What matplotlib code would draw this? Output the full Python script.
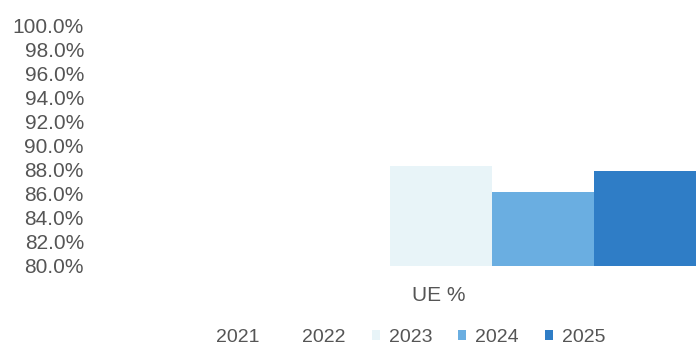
import numpy as np
import matplotlib
matplotlib.use('Agg')
import matplotlib.pyplot as plt
from matplotlib.ticker import PercentFormatter

plt.rcParams['font.family'] = ['Liberation Sans', 'DejaVu Sans']

# one category, one bar per year (no data for 2021/2022)
category = 'UE %'
years = ['2021', '2022', '2023', '2024', '2025']
values = [np.nan, np.nan, 88.3, 86.1, 87.9]
colors = ['#FFFFFF', '#FFFFFF', '#E8F4F8', '#6AAEE1', '#2F7DC6']

W, H = 697, 345
fig = plt.figure(figsize=(W / 100, H / 100), dpi=100)
ax = fig.add_axes([95 / W, 1 - 265.5 / H, (W - 95) / W, (265.5 - 25.5) / H])

width = 0.2
for i, (yr, v, c) in enumerate(zip(years, values, colors)):
    ax.bar((i - 2) * width, v, width, color=c, label=yr)

ax.set_ylim(80, 100)
ax.set_yticks(np.arange(80, 100.1, 2))
ax.yaxis.set_major_formatter(PercentFormatter(decimals=1))
ax.set_xlim(-0.678, 0.502)
ax.set_xticks([0 - 0.004])
ax.set_xticklabels([category])

for s in ax.spines.values():
    s.set_visible(False)
ax.tick_params(axis='both', length=0, colors='#555555', labelsize=15)
ax.tick_params(axis='y', pad=8)
ax.tick_params(axis='x', pad=15)

fig.legend(loc='center', bbox_to_anchor=(402 / W, 1 - 337 / H), ncol=5,
           frameon=False, fontsize=14, labelcolor='#555555',
           handlelength=0.42, handleheight=0.42, handletextpad=0.45,
           columnspacing=1.34, borderaxespad=0, borderpad=0)

fig.savefig('out.png', dpi=100)
